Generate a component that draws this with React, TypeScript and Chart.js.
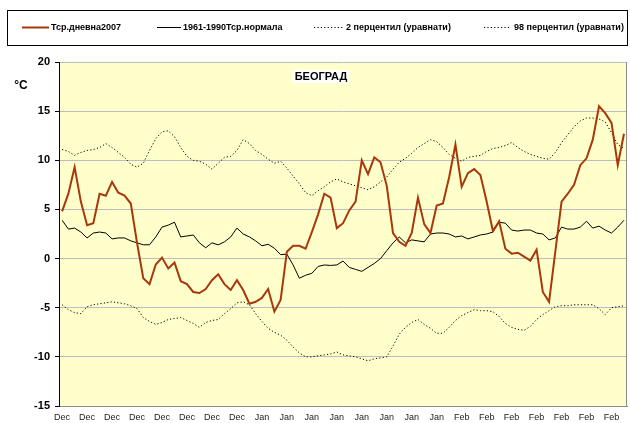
import React, { useEffect, useRef } from 'react';
import { Chart, registerables } from 'chart.js';

Chart.register(...registerables);

const FONT = '"Liberation Sans", Arial, sans-serif';

// Winter 2007/2008: Dec 1 .. Feb 29 (daily)
const monthNames = ['Dec', 'Jan', 'Feb'];
const daysPerMonth = [31, 31, 29];
const labelEvery = 4;

const categories: string[] = [];
monthNames.forEach((m, k) => {
  for (let d = 1; d <= daysPerMonth[k]; d++) categories.push(m);
});

const yTicks = { min: -15, max: 20, step: 5 };

const daily2007 = [
  4.8, 6.6, 9.3, 5.8, 3.4, 3.6, 6.6, 6.4, 7.8, 6.7,
  6.4, 5.6, 1.6, -2.0, -2.6, -0.6, 0.1, -1.0, -0.4, -2.3,
  -2.6, -3.4, -3.5, -3.1, -2.2, -1.6, -2.6, -3.2, -2.2, -3.2,
  -4.6, -4.4, -4.0, -3.1, -5.4, -4.2, 0.7, 1.3, 1.3, 1.0,
  2.7, 4.5, 6.6, 6.2, 3.1, 3.6, 4.9, 5.8, 10.0, 8.6,
  10.3, 9.8, 7.4, 2.6, 1.7, 1.3, 2.6, 6.2, 3.5, 2.6,
  5.4, 5.6, 8.3, 11.6, 7.3, 8.7, 9.1, 8.5, 5.8, 2.8,
  3.8, 1.0, 0.5, 0.6, 0.2, -0.2, 0.9, -3.4, -4.4, 0.7,
  5.8, 6.6, 7.5, 9.5, 10.2, 12.1, 15.5, 14.8, 13.8, 9.5,
  12.7,
];

const normal6190 = [
  3.9, 3.0, 3.1, 2.7, 2.1, 2.6, 2.7, 2.6, 2.0, 2.1,
  2.1, 1.8, 1.6, 1.4, 1.4, 2.2, 3.2, 3.4, 3.7, 2.2,
  2.3, 2.4, 1.6, 1.1, 1.6, 1.4, 1.7, 2.2, 3.1, 2.5,
  2.2, 1.8, 1.3, 1.45, 1.05, 0.4, 0.45, -0.65, -2.0, -1.7,
  -1.5, -0.8, -0.65, -0.7, -0.65, -0.25, -0.9, -1.1, -1.3, -0.9,
  -0.5, 0.0, 0.8, 1.6, 2.2, 1.6, 1.9, 1.8, 1.7, 2.5,
  2.6, 2.6, 2.5, 2.2, 2.3, 2.0, 2.2, 2.4, 2.5, 2.7,
  3.7, 3.6, 2.9, 2.8, 2.9, 2.9, 2.6, 2.5, 1.9, 2.1,
  3.2, 3.0, 3.0, 3.2, 3.8, 3.1, 3.3, 2.9, 2.6, 3.2,
  3.9,
];

const pct2 = [
  -4.7, -5.2, -5.5, -5.6, -4.9, -4.7, -4.6, -4.5, -4.4, -4.5,
  -4.6, -4.8, -5.1, -6.0, -6.4, -6.7, -6.5, -6.2, -6.1, -6.0,
  -6.3, -6.6, -7.0, -6.5, -6.3, -6.2, -5.6, -5.1, -4.5, -4.4,
  -4.7, -5.6, -6.4, -7.1, -7.5, -7.8, -8.3, -9.0, -9.6, -10.0,
  -10.0, -9.9, -9.8, -9.7, -9.5, -9.8, -9.9, -10.0, -10.2, -10.4,
  -10.2, -10.1, -10.0, -8.9, -7.7, -7.0, -6.5, -6.2, -6.7, -7.1,
  -7.6, -7.6, -7.0, -6.3, -5.8, -5.5, -5.2, -5.3, -5.3, -5.4,
  -5.9, -6.6, -7.0, -7.2, -7.3, -6.9, -6.2, -5.7, -5.3, -4.9,
  -4.8, -4.8, -4.7, -4.7, -4.7, -4.7, -5.1, -5.7, -5.0, -4.9,
  -4.8,
];

const pct98 = [
  11.1, 10.9, 10.5, 10.8, 11.0, 11.1, 11.3, 11.7, 11.3, 10.8,
  10.3, 9.6, 9.3, 9.7, 11.0, 12.2, 12.9, 13.0, 12.4, 11.3,
  10.4, 10.0, 9.9, 9.6, 9.1, 9.7, 10.3, 10.4, 11.0, 12.1,
  11.7, 11.0, 10.6, 10.1, 9.7, 9.9, 9.2, 8.4, 7.6, 6.7,
  6.4, 6.9, 7.3, 7.8, 8.1, 7.8, 7.6, 7.4, 7.2, 7.0,
  7.3, 7.8, 8.3, 9.1, 9.8, 10.2, 10.7, 11.3, 11.7, 12.1,
  11.9, 11.3, 10.6, 10.2, 9.9, 10.3, 10.4, 10.5, 10.9, 11.2,
  11.3, 11.5, 11.8, 11.3, 10.9, 10.6, 10.4, 10.2, 10.1, 10.8,
  11.8, 12.6, 13.4, 14.0, 14.3, 14.3, 14.2, 13.9, 12.8, 11.6,
  11.2,
];

const seriesLabels = [
  'Тср.дневна2007',
  '1961-1990Тср.нормала',
  '2 перцентил (уравнати)',
  '98 перцентил (уравнати)',
];
const stationTitle = 'БЕОГРАД';
const unitLabel = '°C';

const RED = '#A8380C';
const DOT = [1.2, 2.2];

const decorPlugin = {
  id: 'decor',
  beforeDraw(chart: any) {
    const { ctx, chartArea } = chart;
    const { left, top, right, bottom } = chartArea;
    ctx.save();
    ctx.fillStyle = '#FFFFFF';
    ctx.fillRect(0, 0, chart.width, chart.height);
    ctx.fillStyle = '#FFFFCC';
    ctx.fillRect(left, top, right - left, bottom - top);
    ctx.restore();
  },
  afterDraw(chart: any) {
    const { ctx, chartArea } = chart;
    const { top, right, bottom } = chartArea;
    ctx.save();
    // right border of plot area
    ctx.strokeStyle = '#8C8C8C';
    ctx.lineWidth = 1;
    ctx.beginPath();
    ctx.moveTo(Math.round(right) - 0.5, top);
    ctx.lineTo(Math.round(right) - 0.5, bottom);
    ctx.stroke();

    // unit label
    ctx.fillStyle = '#000';
    ctx.font = `bold 12px ${FONT}`;
    ctx.textAlign = 'center';
    ctx.textBaseline = 'middle';
    ctx.fillText(unitLabel, 21, 86);

    // station title with white box
    ctx.font = `bold 11px ${FONT}`;
    const tw = ctx.measureText(stationTitle).width;
    const cx = 321, cy = 77;
    ctx.fillStyle = '#FFFFFF';
    ctx.fillRect(cx - tw / 2 - 2, cy - 7, tw + 4, 13);
    ctx.fillStyle = '#000';
    ctx.fillText(stationTitle, cx, cy);

    // legend
    ctx.strokeStyle = '#000';
    ctx.lineWidth = 1;
    ctx.strokeRect(7.5, 10.5, 620, 35);
    const ly = 27.5;
    const items = [
      { x1: 22, x2: 49, tx: 51 },
      { x1: 157, x2: 181, tx: 183 },
      { x1: 314, x2: 343, tx: 346 },
      { x1: 484, x2: 511, tx: 514 },
    ];
    ctx.font = `bold 9px ${FONT}`;
    ctx.textAlign = 'left';
    items.forEach((it, k) => {
      const ds = chart.data.datasets[k];
      ctx.save();
      ctx.strokeStyle = ds.borderColor;
      ctx.lineWidth = ds.borderWidth;
      ctx.setLineDash(ds.borderDash || []);
      ctx.beginPath();
      ctx.moveTo(it.x1, ly);
      ctx.lineTo(it.x2, ly);
      ctx.stroke();
      ctx.restore();
      ctx.fillStyle = '#000';
      ctx.fillText(ds.label, it.tx, ly);
    });
    ctx.restore();
  },
};

export default function App() {
  const ref = useRef<HTMLCanvasElement | null>(null);

  useEffect(() => {
    document.body.style.margin = '0';
    if (!ref.current) return;
    const chart = new Chart(ref.current, {
      type: 'line',
      data: {
        labels: categories,
        datasets: [
          { label: seriesLabels[0], data: daily2007, borderColor: RED, borderWidth: 2, pointRadius: 0, tension: 0 },
          { label: seriesLabels[1], data: normal6190, borderColor: '#000', borderWidth: 1, pointRadius: 0, tension: 0 },
          { label: seriesLabels[2], data: pct2, borderColor: '#000', borderWidth: 1, borderDash: DOT, pointRadius: 0, tension: 0 },
          { label: seriesLabels[3], data: pct98, borderColor: '#000', borderWidth: 1, borderDash: DOT, pointRadius: 0, tension: 0 },
        ] as any,
      },
      options: {
        animation: false,
        responsive: false,
        events: [],
        layout: { padding: { left: 0, right: 2, top: 62, bottom: 0 } },
        plugins: { legend: { display: false }, title: { display: false }, tooltip: { enabled: false } },
        scales: {
          x: {
            type: 'category',
            offset: true,
            grid: { display: false, drawTicks: false },
            border: { display: true, color: '#8C8C8C', width: 1 },
            ticks: {
              autoSkip: false,
              maxRotation: 0,
              minRotation: 0,
              padding: 6,
              color: '#222',
              font: { family: FONT, size: 9 },
              callback: (_v: any, i: number) => (i % labelEvery === 0 ? categories[i] : ''),
            },
            afterFit: (s: any) => { s.height = 17; },
          },
          y: {
            min: yTicks.min,
            max: yTicks.max,
            ticks: {
              stepSize: yTicks.step,
              padding: 5,
              color: '#000',
              font: { family: FONT, size: 11, weight: 'bold' },
            },
            grid: { color: '#BDBDBD', lineWidth: 1, drawTicks: true, tickLength: 4, tickColor: '#000' },
            border: { display: true, color: '#000', width: 1 },
            afterFit: (s: any) => { s.width = 59; },
          },
        },
      } as any,
      plugins: [decorPlugin],
    });
    return () => chart.destroy();
  }, []);

  return (
    <div style={{ width: 630, height: 423 }}>
      <canvas ref={ref} width={630} height={423} style={{ display: 'block' }} />
    </div>
  );
}
